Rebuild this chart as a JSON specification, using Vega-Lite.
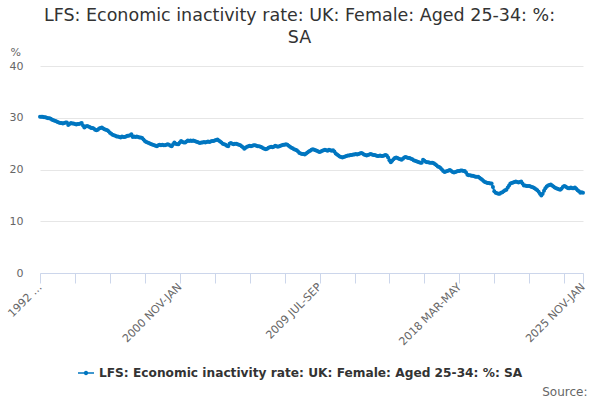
{
  "$schema": "https://vega.github.io/schema/vega-lite/v6.json",
  "width": 543,
  "height": 207,
  "autosize": "none",
  "padding": {"left": 40, "top": 66, "right": 17, "bottom": 127},
  "background": "white",
  "title": {
    "text": ["LFS: Economic inactivity rate: UK: Female: Aged 25-34: %:", "SA"],
    "font": "DejaVu Sans",
    "fontSize": 17.5,
    "fontWeight": "normal",
    "color": "#333333",
    "anchor": "middle",
    "lineHeight": 22,
    "dx": -12,
    "offset": 0
  },
  "config": {"view": {"stroke": null}, "font": "DejaVu Sans"},
  "data": {
    "values": [
      {"period": "1992 MAR-MAY", "value": 30.2}, {"period": "1992 APR-JUN", "value": 30.2}, {"period": "1992 MAY-JUL", "value": 30.2}, {"period": "1992 JUN-AUG", "value": 30.1}, {"period": "1992 JUL-SEP", "value": 30.1}, {"period": "1992 AUG-OCT", "value": 30.0}, {"period": "1992 SEP-NOV", "value": 29.9}, {"period": "1992 OCT-DEC", "value": 29.9}, {"period": "1992 NOV-JAN", "value": 29.8}, {"period": "1992 DEC-FEB", "value": 29.6},
      {"period": "1993 JAN-MAR", "value": 29.5}, {"period": "1993 FEB-APR", "value": 29.4}, {"period": "1993 MAR-MAY", "value": 29.3}, {"period": "1993 APR-JUN", "value": 29.2}, {"period": "1993 MAY-JUL", "value": 29.1}, {"period": "1993 JUN-AUG", "value": 29.0}, {"period": "1993 JUL-SEP", "value": 29.0}, {"period": "1993 AUG-OCT", "value": 28.9}, {"period": "1993 SEP-NOV", "value": 29.0}, {"period": "1993 OCT-DEC", "value": 29.1}, {"period": "1993 NOV-JAN", "value": 29.1}, {"period": "1993 DEC-FEB", "value": 28.6},
      {"period": "1994 JAN-MAR", "value": 28.8}, {"period": "1994 FEB-APR", "value": 29.0}, {"period": "1994 MAR-MAY", "value": 28.9}, {"period": "1994 APR-JUN", "value": 28.9}, {"period": "1994 MAY-JUL", "value": 28.8}, {"period": "1994 JUN-AUG", "value": 28.7}, {"period": "1994 JUL-SEP", "value": 28.8}, {"period": "1994 AUG-OCT", "value": 28.8}, {"period": "1994 SEP-NOV", "value": 28.9}, {"period": "1994 OCT-DEC", "value": 29.0}, {"period": "1994 NOV-JAN", "value": 28.5}, {"period": "1994 DEC-FEB", "value": 28.1},
      {"period": "1995 JAN-MAR", "value": 28.3}, {"period": "1995 FEB-APR", "value": 28.4}, {"period": "1995 MAR-MAY", "value": 28.3}, {"period": "1995 APR-JUN", "value": 28.2}, {"period": "1995 MAY-JUL", "value": 28.0}, {"period": "1995 JUN-AUG", "value": 28.0}, {"period": "1995 JUL-SEP", "value": 27.9}, {"period": "1995 AUG-OCT", "value": 27.7}, {"period": "1995 SEP-NOV", "value": 27.6}, {"period": "1995 OCT-DEC", "value": 27.7}, {"period": "1995 NOV-JAN", "value": 27.9}, {"period": "1995 DEC-FEB", "value": 28.0},
      {"period": "1996 JAN-MAR", "value": 28.1}, {"period": "1996 FEB-APR", "value": 27.9}, {"period": "1996 MAR-MAY", "value": 27.8}, {"period": "1996 APR-JUN", "value": 27.7}, {"period": "1996 MAY-JUL", "value": 27.6}, {"period": "1996 JUN-AUG", "value": 27.4}, {"period": "1996 JUL-SEP", "value": 27.1}, {"period": "1996 AUG-OCT", "value": 26.9}, {"period": "1996 SEP-NOV", "value": 26.7}, {"period": "1996 OCT-DEC", "value": 26.6}, {"period": "1996 NOV-JAN", "value": 26.5}, {"period": "1996 DEC-FEB", "value": 26.4},
      {"period": "1997 JAN-MAR", "value": 26.4}, {"period": "1997 FEB-APR", "value": 26.3}, {"period": "1997 MAR-MAY", "value": 26.2}, {"period": "1997 APR-JUN", "value": 26.4}, {"period": "1997 MAY-JUL", "value": 26.3}, {"period": "1997 JUN-AUG", "value": 26.3}, {"period": "1997 JUL-SEP", "value": 26.4}, {"period": "1997 AUG-OCT", "value": 26.5}, {"period": "1997 SEP-NOV", "value": 26.5}, {"period": "1997 OCT-DEC", "value": 26.6}, {"period": "1997 NOV-JAN", "value": 26.8}, {"period": "1997 DEC-FEB", "value": 26.3},
      {"period": "1998 JAN-MAR", "value": 26.4}, {"period": "1998 FEB-APR", "value": 26.3}, {"period": "1998 MAR-MAY", "value": 26.4}, {"period": "1998 APR-JUN", "value": 26.3}, {"period": "1998 MAY-JUL", "value": 26.2}, {"period": "1998 JUN-AUG", "value": 26.2}, {"period": "1998 JUL-SEP", "value": 26.1}, {"period": "1998 AUG-OCT", "value": 25.8}, {"period": "1998 SEP-NOV", "value": 25.5}, {"period": "1998 OCT-DEC", "value": 25.3}, {"period": "1998 NOV-JAN", "value": 25.2}, {"period": "1998 DEC-FEB", "value": 25.1},
      {"period": "1999 JAN-MAR", "value": 25.0}, {"period": "1999 FEB-APR", "value": 24.9}, {"period": "1999 MAR-MAY", "value": 24.8}, {"period": "1999 APR-JUN", "value": 24.7}, {"period": "1999 MAY-JUL", "value": 24.6}, {"period": "1999 JUN-AUG", "value": 24.5}, {"period": "1999 JUL-SEP", "value": 24.7}, {"period": "1999 AUG-OCT", "value": 24.8}, {"period": "1999 SEP-NOV", "value": 24.7}, {"period": "1999 OCT-DEC", "value": 24.8}, {"period": "1999 NOV-JAN", "value": 24.7}, {"period": "1999 DEC-FEB", "value": 24.7},
      {"period": "2000 JAN-MAR", "value": 24.8}, {"period": "2000 FEB-APR", "value": 24.9}, {"period": "2000 MAR-MAY", "value": 24.8}, {"period": "2000 APR-JUN", "value": 24.6}, {"period": "2000 MAY-JUL", "value": 24.5}, {"period": "2000 JUN-AUG", "value": 24.9}, {"period": "2000 JUL-SEP", "value": 25.2}, {"period": "2000 AUG-OCT", "value": 25.0}, {"period": "2000 SEP-NOV", "value": 24.9}, {"period": "2000 OCT-DEC", "value": 24.9}, {"period": "2000 NOV-JAN", "value": 25.2}, {"period": "2000 DEC-FEB", "value": 25.5},
      {"period": "2001 JAN-MAR", "value": 25.3}, {"period": "2001 FEB-APR", "value": 25.2}, {"period": "2001 MAR-MAY", "value": 25.2}, {"period": "2001 APR-JUN", "value": 25.4}, {"period": "2001 MAY-JUL", "value": 25.6}, {"period": "2001 JUN-AUG", "value": 25.5}, {"period": "2001 JUL-SEP", "value": 25.6}, {"period": "2001 AUG-OCT", "value": 25.5}, {"period": "2001 SEP-NOV", "value": 25.6}, {"period": "2001 OCT-DEC", "value": 25.5}, {"period": "2001 NOV-JAN", "value": 25.4}, {"period": "2001 DEC-FEB", "value": 25.3},
      {"period": "2002 JAN-MAR", "value": 25.2}, {"period": "2002 FEB-APR", "value": 25.1}, {"period": "2002 MAR-MAY", "value": 25.2}, {"period": "2002 APR-JUN", "value": 25.2}, {"period": "2002 MAY-JUL", "value": 25.3}, {"period": "2002 JUN-AUG", "value": 25.2}, {"period": "2002 JUL-SEP", "value": 25.3}, {"period": "2002 AUG-OCT", "value": 25.4}, {"period": "2002 SEP-NOV", "value": 25.3}, {"period": "2002 OCT-DEC", "value": 25.4}, {"period": "2002 NOV-JAN", "value": 25.5}, {"period": "2002 DEC-FEB", "value": 25.5},
      {"period": "2003 JAN-MAR", "value": 25.6}, {"period": "2003 FEB-APR", "value": 25.7}, {"period": "2003 MAR-MAY", "value": 25.8}, {"period": "2003 APR-JUN", "value": 25.6}, {"period": "2003 MAY-JUL", "value": 25.4}, {"period": "2003 JUN-AUG", "value": 25.2}, {"period": "2003 JUL-SEP", "value": 25.0}, {"period": "2003 AUG-OCT", "value": 24.9}, {"period": "2003 SEP-NOV", "value": 24.8}, {"period": "2003 OCT-DEC", "value": 24.6}, {"period": "2003 NOV-JAN", "value": 24.5}, {"period": "2003 DEC-FEB", "value": 25.0},
      {"period": "2004 JAN-MAR", "value": 25.1}, {"period": "2004 FEB-APR", "value": 25.0}, {"period": "2004 MAR-MAY", "value": 24.9}, {"period": "2004 APR-JUN", "value": 25.0}, {"period": "2004 MAY-JUL", "value": 25.0}, {"period": "2004 JUN-AUG", "value": 24.9}, {"period": "2004 JUL-SEP", "value": 24.8}, {"period": "2004 AUG-OCT", "value": 24.7}, {"period": "2004 SEP-NOV", "value": 24.5}, {"period": "2004 OCT-DEC", "value": 24.3}, {"period": "2004 NOV-JAN", "value": 24.0}, {"period": "2004 DEC-FEB", "value": 24.2},
      {"period": "2005 JAN-MAR", "value": 24.4}, {"period": "2005 FEB-APR", "value": 24.5}, {"period": "2005 MAR-MAY", "value": 24.6}, {"period": "2005 APR-JUN", "value": 24.5}, {"period": "2005 MAY-JUL", "value": 24.6}, {"period": "2005 JUN-AUG", "value": 24.7}, {"period": "2005 JUL-SEP", "value": 24.7}, {"period": "2005 AUG-OCT", "value": 24.6}, {"period": "2005 SEP-NOV", "value": 24.5}, {"period": "2005 OCT-DEC", "value": 24.5}, {"period": "2005 NOV-JAN", "value": 24.4}, {"period": "2005 DEC-FEB", "value": 24.3},
      {"period": "2006 JAN-MAR", "value": 24.1}, {"period": "2006 FEB-APR", "value": 24.0}, {"period": "2006 MAR-MAY", "value": 23.9}, {"period": "2006 APR-JUN", "value": 24.0}, {"period": "2006 MAY-JUL", "value": 24.2}, {"period": "2006 JUN-AUG", "value": 24.3}, {"period": "2006 JUL-SEP", "value": 24.4}, {"period": "2006 AUG-OCT", "value": 24.3}, {"period": "2006 SEP-NOV", "value": 24.4}, {"period": "2006 OCT-DEC", "value": 24.6}, {"period": "2006 NOV-JAN", "value": 24.5}, {"period": "2006 DEC-FEB", "value": 24.4},
      {"period": "2007 JAN-MAR", "value": 24.5}, {"period": "2007 FEB-APR", "value": 24.6}, {"period": "2007 MAR-MAY", "value": 24.7}, {"period": "2007 APR-JUN", "value": 24.8}, {"period": "2007 MAY-JUL", "value": 24.8}, {"period": "2007 JUN-AUG", "value": 24.9}, {"period": "2007 JUL-SEP", "value": 24.8}, {"period": "2007 AUG-OCT", "value": 24.6}, {"period": "2007 SEP-NOV", "value": 24.4}, {"period": "2007 OCT-DEC", "value": 24.2}, {"period": "2007 NOV-JAN", "value": 24.1}, {"period": "2007 DEC-FEB", "value": 23.9},
      {"period": "2008 JAN-MAR", "value": 23.8}, {"period": "2008 FEB-APR", "value": 23.7}, {"period": "2008 MAR-MAY", "value": 23.5}, {"period": "2008 APR-JUN", "value": 23.2}, {"period": "2008 MAY-JUL", "value": 23.1}, {"period": "2008 JUN-AUG", "value": 23.0}, {"period": "2008 JUL-SEP", "value": 23.0}, {"period": "2008 AUG-OCT", "value": 22.9}, {"period": "2008 SEP-NOV", "value": 23.1}, {"period": "2008 OCT-DEC", "value": 23.3}, {"period": "2008 NOV-JAN", "value": 23.5}, {"period": "2008 DEC-FEB", "value": 23.6},
      {"period": "2009 JAN-MAR", "value": 23.8}, {"period": "2009 FEB-APR", "value": 23.9}, {"period": "2009 MAR-MAY", "value": 23.8}, {"period": "2009 APR-JUN", "value": 23.7}, {"period": "2009 MAY-JUL", "value": 23.6}, {"period": "2009 JUN-AUG", "value": 23.5}, {"period": "2009 JUL-SEP", "value": 23.4}, {"period": "2009 AUG-OCT", "value": 23.5}, {"period": "2009 SEP-NOV", "value": 23.6}, {"period": "2009 OCT-DEC", "value": 23.7}, {"period": "2009 NOV-JAN", "value": 23.8}, {"period": "2009 DEC-FEB", "value": 23.7},
      {"period": "2010 JAN-MAR", "value": 23.6}, {"period": "2010 FEB-APR", "value": 23.8}, {"period": "2010 MAR-MAY", "value": 23.7}, {"period": "2010 APR-JUN", "value": 23.6}, {"period": "2010 MAY-JUL", "value": 23.7}, {"period": "2010 JUN-AUG", "value": 23.5}, {"period": "2010 JUL-SEP", "value": 23.1}, {"period": "2010 AUG-OCT", "value": 22.9}, {"period": "2010 SEP-NOV", "value": 22.7}, {"period": "2010 OCT-DEC", "value": 22.5}, {"period": "2010 NOV-JAN", "value": 22.4}, {"period": "2010 DEC-FEB", "value": 22.3},
      {"period": "2011 JAN-MAR", "value": 22.4}, {"period": "2011 FEB-APR", "value": 22.5}, {"period": "2011 MAR-MAY", "value": 22.6}, {"period": "2011 APR-JUN", "value": 22.7}, {"period": "2011 MAY-JUL", "value": 22.7}, {"period": "2011 JUN-AUG", "value": 22.8}, {"period": "2011 JUL-SEP", "value": 22.8}, {"period": "2011 AUG-OCT", "value": 22.9}, {"period": "2011 SEP-NOV", "value": 22.9}, {"period": "2011 OCT-DEC", "value": 23.0}, {"period": "2011 NOV-JAN", "value": 22.9}, {"period": "2011 DEC-FEB", "value": 23.0},
      {"period": "2012 JAN-MAR", "value": 23.1}, {"period": "2012 FEB-APR", "value": 23.2}, {"period": "2012 MAR-MAY", "value": 23.1}, {"period": "2012 APR-JUN", "value": 22.9}, {"period": "2012 MAY-JUL", "value": 22.8}, {"period": "2012 JUN-AUG", "value": 22.7}, {"period": "2012 JUL-SEP", "value": 22.8}, {"period": "2012 AUG-OCT", "value": 22.9}, {"period": "2012 SEP-NOV", "value": 23.0}, {"period": "2012 OCT-DEC", "value": 22.9}, {"period": "2012 NOV-JAN", "value": 22.8}, {"period": "2012 DEC-FEB", "value": 22.8},
      {"period": "2013 JAN-MAR", "value": 22.7}, {"period": "2013 FEB-APR", "value": 22.6}, {"period": "2013 MAR-MAY", "value": 22.6}, {"period": "2013 APR-JUN", "value": 22.7}, {"period": "2013 MAY-JUL", "value": 22.6}, {"period": "2013 JUN-AUG", "value": 22.6}, {"period": "2013 JUL-SEP", "value": 22.7}, {"period": "2013 AUG-OCT", "value": 22.8}, {"period": "2013 SEP-NOV", "value": 22.7}, {"period": "2013 OCT-DEC", "value": 22.3}, {"period": "2013 NOV-JAN", "value": 21.8}, {"period": "2013 DEC-FEB", "value": 21.4},
      {"period": "2014 JAN-MAR", "value": 21.7}, {"period": "2014 FEB-APR", "value": 22.0}, {"period": "2014 MAR-MAY", "value": 22.2}, {"period": "2014 APR-JUN", "value": 22.3}, {"period": "2014 MAY-JUL", "value": 22.2}, {"period": "2014 JUN-AUG", "value": 22.1}, {"period": "2014 JUL-SEP", "value": 22.0}, {"period": "2014 AUG-OCT", "value": 21.9}, {"period": "2014 SEP-NOV", "value": 22.1}, {"period": "2014 OCT-DEC", "value": 22.3}, {"period": "2014 NOV-JAN", "value": 22.4}, {"period": "2014 DEC-FEB", "value": 22.3},
      {"period": "2015 JAN-MAR", "value": 22.2}, {"period": "2015 FEB-APR", "value": 22.2}, {"period": "2015 MAR-MAY", "value": 22.1}, {"period": "2015 APR-JUN", "value": 22.0}, {"period": "2015 MAY-JUL", "value": 21.8}, {"period": "2015 JUN-AUG", "value": 21.7}, {"period": "2015 JUL-SEP", "value": 21.6}, {"period": "2015 AUG-OCT", "value": 21.5}, {"period": "2015 SEP-NOV", "value": 21.4}, {"period": "2015 OCT-DEC", "value": 21.3}, {"period": "2015 NOV-JAN", "value": 21.3}, {"period": "2015 DEC-FEB", "value": 21.9},
      {"period": "2016 JAN-MAR", "value": 21.7}, {"period": "2016 FEB-APR", "value": 21.5}, {"period": "2016 MAR-MAY", "value": 21.4}, {"period": "2016 APR-JUN", "value": 21.4}, {"period": "2016 MAY-JUL", "value": 21.3}, {"period": "2016 JUN-AUG", "value": 21.3}, {"period": "2016 JUL-SEP", "value": 21.3}, {"period": "2016 AUG-OCT", "value": 21.2}, {"period": "2016 SEP-NOV", "value": 21.0}, {"period": "2016 OCT-DEC", "value": 20.8}, {"period": "2016 NOV-JAN", "value": 20.6}, {"period": "2016 DEC-FEB", "value": 20.5},
      {"period": "2017 JAN-MAR", "value": 20.3}, {"period": "2017 FEB-APR", "value": 20.0}, {"period": "2017 MAR-MAY", "value": 19.7}, {"period": "2017 APR-JUN", "value": 19.5}, {"period": "2017 MAY-JUL", "value": 19.6}, {"period": "2017 JUN-AUG", "value": 19.7}, {"period": "2017 JUL-SEP", "value": 19.8}, {"period": "2017 AUG-OCT", "value": 19.9}, {"period": "2017 SEP-NOV", "value": 19.7}, {"period": "2017 OCT-DEC", "value": 19.5}, {"period": "2017 NOV-JAN", "value": 19.4}, {"period": "2017 DEC-FEB", "value": 19.5},
      {"period": "2018 JAN-MAR", "value": 19.6}, {"period": "2018 FEB-APR", "value": 19.7}, {"period": "2018 MAR-MAY", "value": 19.7}, {"period": "2018 APR-JUN", "value": 19.8}, {"period": "2018 MAY-JUL", "value": 19.8}, {"period": "2018 JUN-AUG", "value": 19.7}, {"period": "2018 JUL-SEP", "value": 19.7}, {"period": "2018 AUG-OCT", "value": 19.4}, {"period": "2018 SEP-NOV", "value": 19.0}, {"period": "2018 OCT-DEC", "value": 18.9}, {"period": "2018 NOV-JAN", "value": 18.9}, {"period": "2018 DEC-FEB", "value": 18.8},
      {"period": "2019 JAN-MAR", "value": 18.8}, {"period": "2019 FEB-APR", "value": 18.7}, {"period": "2019 MAR-MAY", "value": 18.6}, {"period": "2019 APR-JUN", "value": 18.6}, {"period": "2019 MAY-JUL", "value": 18.6}, {"period": "2019 JUN-AUG", "value": 18.4}, {"period": "2019 JUL-SEP", "value": 18.2}, {"period": "2019 AUG-OCT", "value": 18.0}, {"period": "2019 SEP-NOV", "value": 17.8}, {"period": "2019 OCT-DEC", "value": 17.6}, {"period": "2019 NOV-JAN", "value": 17.5}, {"period": "2019 DEC-FEB", "value": 17.4},
      {"period": "2020 JAN-MAR", "value": 17.4}, {"period": "2020 FEB-APR", "value": 17.3}, {"period": "2020 MAR-MAY", "value": 17.3}, {"period": "2020 APR-JUN", "value": 16.6}, {"period": "2020 MAY-JUL", "value": 15.8}, {"period": "2020 JUN-AUG", "value": 15.5}, {"period": "2020 JUL-SEP", "value": 15.4}, {"period": "2020 AUG-OCT", "value": 15.3}, {"period": "2020 SEP-NOV", "value": 15.3}, {"period": "2020 OCT-DEC", "value": 15.5}, {"period": "2020 NOV-JAN", "value": 15.6}, {"period": "2020 DEC-FEB", "value": 15.8},
      {"period": "2021 JAN-MAR", "value": 16.0}, {"period": "2021 FEB-APR", "value": 16.1}, {"period": "2021 MAR-MAY", "value": 16.5}, {"period": "2021 APR-JUN", "value": 16.9}, {"period": "2021 MAY-JUL", "value": 17.3}, {"period": "2021 JUN-AUG", "value": 17.4}, {"period": "2021 JUL-SEP", "value": 17.5}, {"period": "2021 AUG-OCT", "value": 17.6}, {"period": "2021 SEP-NOV", "value": 17.7}, {"period": "2021 OCT-DEC", "value": 17.6}, {"period": "2021 NOV-JAN", "value": 17.5}, {"period": "2021 DEC-FEB", "value": 17.6},
      {"period": "2022 JAN-MAR", "value": 17.7}, {"period": "2022 FEB-APR", "value": 17.3}, {"period": "2022 MAR-MAY", "value": 16.9}, {"period": "2022 APR-JUN", "value": 16.9}, {"period": "2022 MAY-JUL", "value": 16.8}, {"period": "2022 JUN-AUG", "value": 16.8}, {"period": "2022 JUL-SEP", "value": 16.8}, {"period": "2022 AUG-OCT", "value": 16.7}, {"period": "2022 SEP-NOV", "value": 16.6}, {"period": "2022 OCT-DEC", "value": 16.5}, {"period": "2022 NOV-JAN", "value": 16.4}, {"period": "2022 DEC-FEB", "value": 16.2},
      {"period": "2023 JAN-MAR", "value": 16.0}, {"period": "2023 FEB-APR", "value": 15.7}, {"period": "2023 MAR-MAY", "value": 15.3}, {"period": "2023 APR-JUN", "value": 15.0}, {"period": "2023 MAY-JUL", "value": 15.3}, {"period": "2023 JUN-AUG", "value": 15.9}, {"period": "2023 JUL-SEP", "value": 16.4}, {"period": "2023 AUG-OCT", "value": 16.7}, {"period": "2023 SEP-NOV", "value": 16.9}, {"period": "2023 OCT-DEC", "value": 17.0}, {"period": "2023 NOV-JAN", "value": 17.1}, {"period": "2023 DEC-FEB", "value": 16.9},
      {"period": "2024 JAN-MAR", "value": 16.7}, {"period": "2024 FEB-APR", "value": 16.5}, {"period": "2024 MAR-MAY", "value": 16.4}, {"period": "2024 APR-JUN", "value": 16.3}, {"period": "2024 MAY-JUL", "value": 16.2}, {"period": "2024 JUN-AUG", "value": 16.1}, {"period": "2024 JUL-SEP", "value": 16.3}, {"period": "2024 AUG-OCT", "value": 16.6}, {"period": "2024 SEP-NOV", "value": 16.8}, {"period": "2024 OCT-DEC", "value": 16.7}, {"period": "2024 NOV-JAN", "value": 16.5}, {"period": "2024 DEC-FEB", "value": 16.4},
      {"period": "2025 JAN-MAR", "value": 16.4}, {"period": "2025 FEB-APR", "value": 16.5}, {"period": "2025 MAR-MAY", "value": 16.4}, {"period": "2025 APR-JUN", "value": 16.4}, {"period": "2025 MAY-JUL", "value": 16.5}, {"period": "2025 JUN-AUG", "value": 16.3}, {"period": "2025 JUL-SEP", "value": 16.0}, {"period": "2025 AUG-OCT", "value": 15.8}, {"period": "2025 SEP-NOV", "value": 15.5}, {"period": "2025 OCT-DEC", "value": 15.6}, {"period": "2025 NOV-JAN", "value": 15.5}
    ]
  },
  "mark": {"type": "line", "strokeWidth": 2, "point": {"filled": true, "size": 16}},
  "encoding": {
    "x": {
      "field": "period",
      "type": "ordinal",
      "sort": null,
      "scale": {"type": "point", "padding": 0},
      "axis": {
        "values": ["1992 MAR-MAY", "1994 MAY-JUL", "1996 JUL-SEP", "1998 SEP-NOV", "2000 NOV-JAN", "2003 JAN-MAR", "2005 MAR-MAY", "2007 MAY-JUL", "2009 JUL-SEP", "2011 SEP-NOV", "2013 NOV-JAN", "2016 JAN-MAR", "2018 MAR-MAY", "2020 MAY-JUL", "2022 JUL-SEP", "2024 SEP-NOV", "2025 NOV-JAN"],
        "labelExpr": "datum.value == '1992 MAR-MAY' ? '1992 …' : (indexof(['2000 NOV-JAN', '2009 JUL-SEP', '2018 MAR-MAY', '2025 NOV-JAN'], datum.value) >= 0 ? datum.value : '')",
        "labelAngle": -45,
        "labelAlign": "right",
        "labelBaseline": "middle",
        "labelFontSize": 11,
        "labelColor": "#666666",
        "labelPadding": 2,
        "labelOverlap": false,
        "labelBound": false,
        "labelFlush": false,
        "domainColor": "#ccd6eb",
        "tickColor": "#ccd6eb",
        "tickSize": 10,
        "grid": false,
        "title": "Source:",
        "titleX": 547,
        "titleY": 118,
        "titleAlign": "right",
        "titleBaseline": "middle",
        "titleFontSize": 12,
        "titleFontWeight": "normal",
        "titleColor": "#666666"
      }
    },
    "y": {
      "field": "value",
      "type": "quantitative",
      "scale": {"domain": [0, 40]},
      "axis": {
        "values": [0, 10, 20, 30, 40],
        "grid": true,
        "gridColor": "#e6e6e6",
        "domain": false,
        "ticks": false,
        "labelPadding": 17,
        "labelFontSize": 11,
        "labelColor": "#666666",
        "title": "%",
        "titleAngle": 0,
        "titleX": -30,
        "titleY": -14,
        "titleAlign": "left",
        "titleBaseline": "middle",
        "titleFontSize": 11,
        "titleFontWeight": "normal",
        "titleColor": "#666666"
      }
    },
    "color": {
      "datum": "LFS: Economic inactivity rate: UK: Female: Aged 25-34: %: SA",
      "scale": {"range": ["#0076c0"]},
      "legend": {
        "orient": "none",
        "legendX": 38,
        "legendY": 299,
        "title": null,
        "padding": 0,
        "symbolType": "M-1,-0.09L1,-0.09L1,0.09L-1,0.09Z M0.28,0A0.28,0.28 0 1,1 -0.28,0A0.28,0.28 0 1,1 0.28,0Z",
        "symbolSize": 256,
        "symbolStrokeWidth": 0,
        "symbolFillColor": "#0076c0",
        "labelFontSize": 12.2,
        "labelFontWeight": "bold",
        "labelColor": "#333333",
        "labelOffset": 5,
        "labelLimit": 600
      }
    }
  }
}
